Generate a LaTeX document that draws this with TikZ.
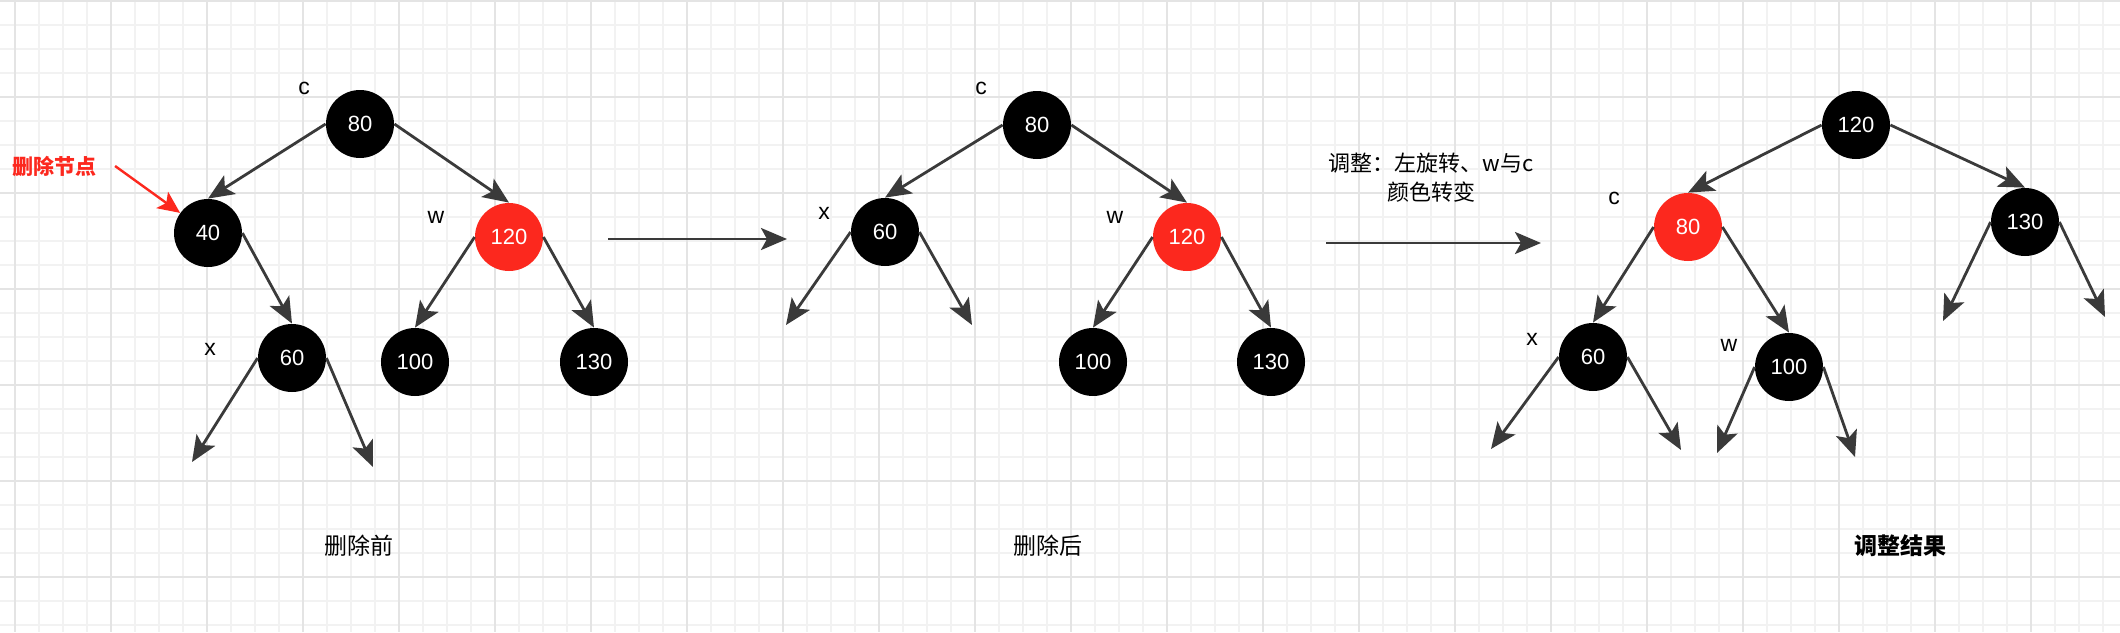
\documentclass[tikz,border=0pt]{standalone}
\usepackage{fontspec}
\setmainfont{Liberation Sans}
\newfontfamily\cjk{Noto Sans CJK SC}
\usepackage{xcolor}
\usepackage{tikz}
\usetikzlibrary{arrows.meta}
\definecolor{rbred}{RGB}{252,40,30}
\definecolor{linkgray}{RGB}{58,58,58}
\definecolor{gridminor}{RGB}{242,242,242}
\definecolor{gridmajor}{RGB}{228,228,228}
\tikzset{blk/.style={circle,fill=black,text=white,minimum size=34pt,inner sep=0pt,
           font=\fontsize{11}{12}\selectfont},
         rednode/.style={blk,fill=rbred},
         link/.style={draw=linkgray,line width=1.4pt,
           -{Stealth[length=13pt,width=11pt,inset=3pt]}},
         redptr/.style={draw=rbred,line width=1.2pt,
           -{Stealth[length=11pt,width=10pt,inset=2.5pt]}},
         tag/.style={font=\fontsize{11.5}{12}\selectfont},
         caption/.style={font=\cjk\fontsize{11.5}{14}\selectfont}}

\begin{document}
\begin{tikzpicture}[x=0.5pt,y=-0.5pt]
\useasboundingbox (0,0) rectangle (2120,632);
\fill[white] (0,0) rectangle (2120,632);
\foreach \gx in {15,39,...,2103} \draw[gridminor,line width=0.7pt] (\gx,0) -- (\gx,632);
\foreach \gy in {1,25,...,625} \draw[gridminor,line width=0.7pt] (0,\gy) -- (2120,\gy);
\foreach \gx in {15,111,...,2031} \draw[gridmajor,line width=0.9pt] (\gx,0) -- (\gx,632);
\foreach \gy in {1,97,...,577} \draw[gridmajor,line width=0.9pt] (0,\gy) -- (2120,\gy);

\node[blk] (a80) at (360,124) {80};
\node[blk] (a40) at (208,233) {40};
\node[rednode] (a120) at (509,237) {120};
\node[blk] (a60) at (292,358) {60};
\node[blk] (a100) at (415,362) {100};
\node[blk] (a130) at (594,362) {130};
\node[tag] (ac) at (304,88) {c};
\node[tag] (aw) at (436,217) {w};
\node[tag] (ax) at (210,349) {x};
\node[font=\cjk\bfseries\fontsize{10.5}{12}\selectfont,text=rbred] (del) at (54,166) {删除节点};
\coordinate (al) at (192,462);
\coordinate (ar) at (373,467);
\draw[link] (a80.west) -- (a40.north);
\draw[link] (a80.east) -- (a120.north);
\draw[link] (a40.east) -- (a60.north);
\draw[link] (a120.west) -- (a100.north);
\draw[link] (a120.east) -- (a130.north);
\draw[link] (a60.west) -- (al);
\draw[link] (a60.east) -- (ar);
\draw[redptr] ([xshift=6pt]del.east) -- (a40);
\node[caption] (before) at (359,546) {删除前};

\coordinate (s1) at (608,239);
\coordinate (e1) at (787,239);
\draw[link] (s1) -- (e1);

\node[blk] (b80) at (1037,125) {80};
\node[blk] (b60) at (885,232) {60};
\node[rednode] (b120) at (1187,237) {120};
\node[blk] (b100) at (1093,362) {100};
\node[blk] (b130) at (1271,362) {130};
\node[tag] (bc) at (981,88) {c};
\node[tag] (bx) at (824,213) {x};
\node[tag] (bw) at (1115,217) {w};
\coordinate (bl) at (786,325);
\coordinate (br) at (972,325);
\draw[link] (b80.west) -- (b60.north);
\draw[link] (b80.east) -- (b120.north);
\draw[link] (b120.west) -- (b100.north);
\draw[link] (b120.east) -- (b130.north);
\draw[link] (b60.west) -- (bl);
\draw[link] (b60.east) -- (br);
\node[caption] (after) at (1048,546) {删除后};

\coordinate (s2) at (1326,243);
\coordinate (e2) at (1541,243);
\draw[link] (s2) -- (e2);
\node[caption,align=center,font=\cjk\fontsize{11}{14.5}\selectfont] (fix) at (1431,178) {调整：左旋转、w与c\\颜色转变};

\node[blk] (c120) at (1856,125) {120};
\node[rednode] (c80) at (1688,227) {80};
\node[blk] (c130) at (2025,222) {130};
\node[blk] (c60) at (1593,357) {60};
\node[blk] (c100) at (1789,367) {100};
\node[tag] (cc) at (1614,198) {c};
\node[tag] (cx) at (1532,339) {x};
\node[tag] (cw) at (1729,345) {w};
\coordinate (cl1) at (1491,449);
\coordinate (cr1) at (1681,450);
\coordinate (cl2) at (1717,453);
\coordinate (cr2) at (1855,457);
\coordinate (cl3) at (1943,321);
\coordinate (cr3) at (2105,317);
\draw[link] (c120.west) -- (c80.north);
\draw[link] (c120.east) -- (c130.north);
\draw[link] (c80.west) -- (c60.north);
\draw[link] (c80.east) -- (c100.north);
\draw[link] (c60.west) -- (cl1);
\draw[link] (c60.east) -- (cr1);
\draw[link] (c100.west) -- (cl2);
\draw[link] (c100.east) -- (cr2);
\draw[link] (c130.west) -- (cl3);
\draw[link] (c130.east) -- (cr3);
\node[caption,font=\cjk\bfseries\fontsize{11.5}{14}\selectfont] (result) at (1900,546) {调整结果};
\end{tikzpicture}
\end{document}
